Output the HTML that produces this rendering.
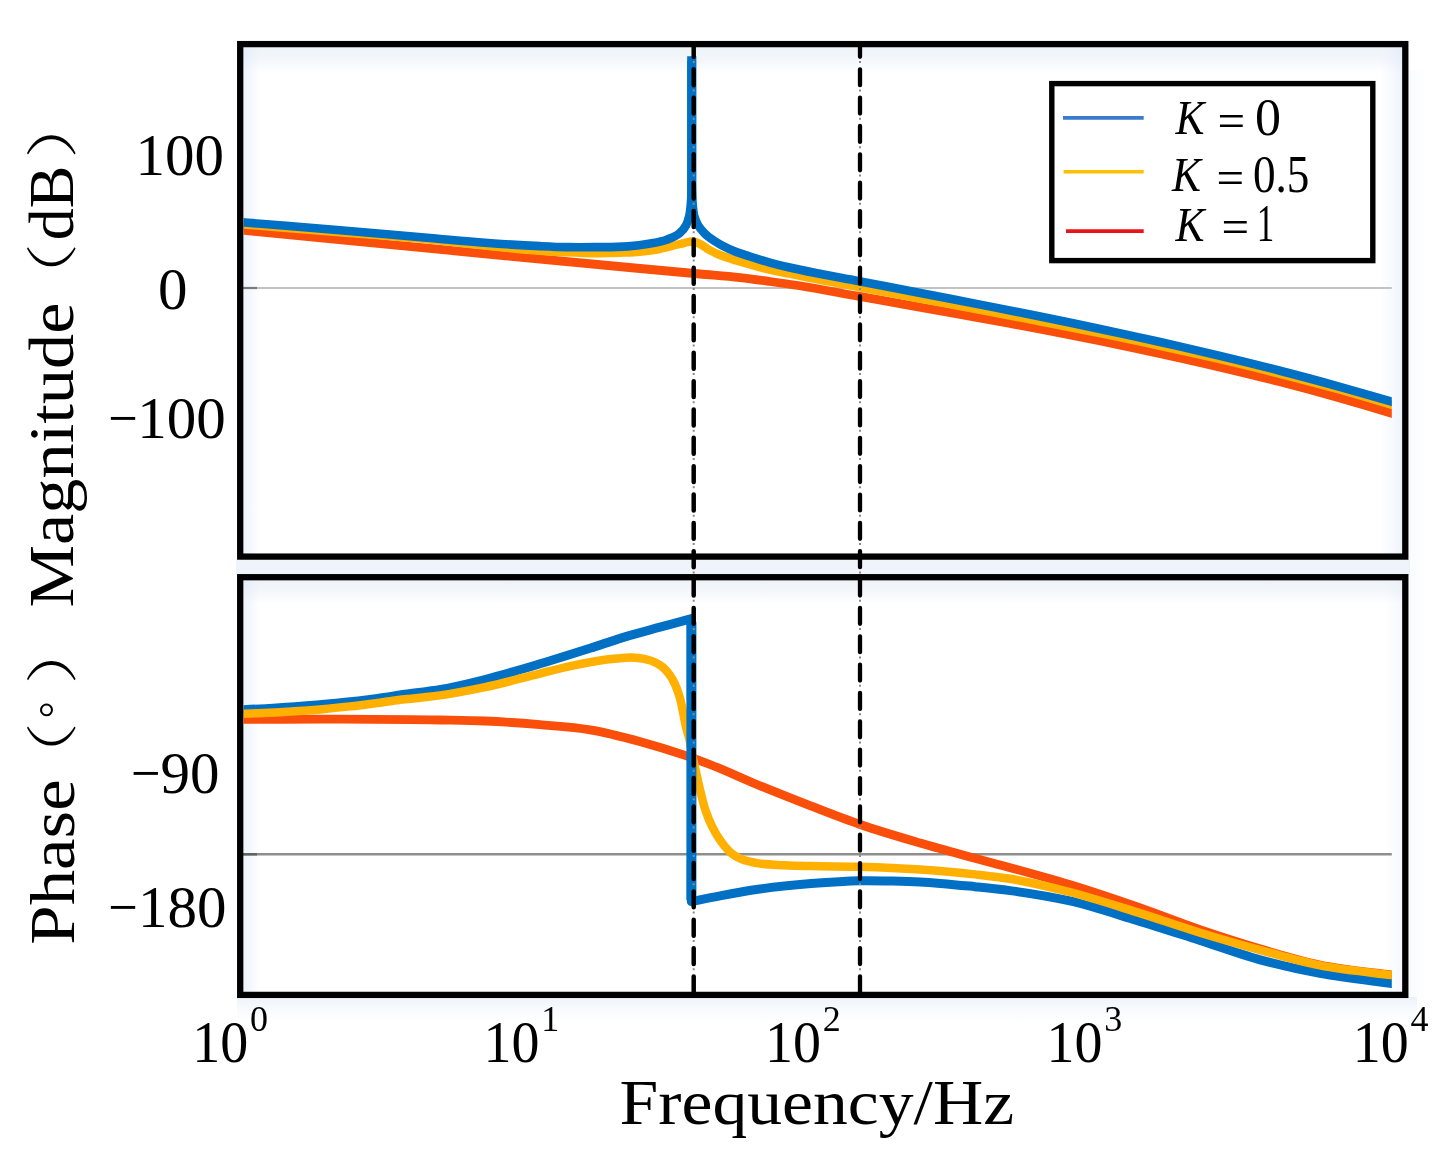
<!DOCTYPE html>
<html lang="en">
<head>
<meta charset="utf-8">
<title>Bode plot</title>
<style>
html,body{margin:0;padding:0;background:#fff;}
body{width:1455px;height:1173px;position:relative;overflow:hidden;font-family:"Liberation Serif","Noto Serif CJK SC",serif;}
</style>
</head>
<body>
<svg width="1455" height="1173" viewBox="0 0 1455 1173" style="position:absolute;left:0;top:0;display:block">
<defs>
<clipPath id="clipTop"><rect x="243.6" y="47" width="1148.2" height="506.6"/></clipPath>
<clipPath id="clipDash"><rect x="680" y="42" width="200" height="952"/></clipPath>
<clipPath id="clipBot"><rect x="243.6" y="580.3" width="1148.2" height="411.9"/></clipPath>
<linearGradient id="gT" x1="0" y1="0" x2="0" y2="1"><stop offset="0" stop-color="#DDE7F2" stop-opacity="0.5"/><stop offset="0.5" stop-color="#E3ECF5" stop-opacity="0.4"/><stop offset="1" stop-color="#E8EFF8" stop-opacity="0"/></linearGradient>
<linearGradient id="gL" x1="0" y1="0" x2="1" y2="0"><stop offset="0" stop-color="#DCE5FA" stop-opacity="0.5"/><stop offset="0.45" stop-color="#E2EAFB" stop-opacity="0.35"/><stop offset="1" stop-color="#E8EEFC" stop-opacity="0"/></linearGradient>
<linearGradient id="gR" x1="1" y1="0" x2="0" y2="0"><stop offset="0" stop-color="#DFE8F8" stop-opacity="0.55"/><stop offset="1" stop-color="#E8EEFC" stop-opacity="0"/></linearGradient>
<linearGradient id="gB" x1="0" y1="0" x2="0" y2="1"><stop offset="0" stop-color="#E3EAF6" stop-opacity="0.7"/><stop offset="1" stop-color="#EEF2FA" stop-opacity="0"/></linearGradient>
<linearGradient id="gO" x1="0" y1="0" x2="1" y2="0"><stop offset="0" stop-color="#E6EEF6" stop-opacity="0.45"/><stop offset="1" stop-color="#EEF2FA" stop-opacity="0"/></linearGradient>
</defs>
<rect x="0" y="0" width="1455" height="1173" fill="#FFFFFF"/>
<rect x="243" y="47" width="1160" height="27" fill="url(#gT)"/>
<rect x="243" y="47" width="17" height="507" fill="url(#gL)"/>
<rect x="1380" y="47" width="22.5" height="507" fill="url(#gR)"/>
<rect x="243" y="580" width="1160" height="24" fill="url(#gT)"/>
<rect x="243" y="580" width="17" height="412" fill="url(#gL)"/>
<rect x="1384" y="580" width="18.5" height="412" fill="url(#gR)" opacity="0.6"/>
<rect x="236" y="559" width="1174" height="16" fill="#EFF3FA"/>
<rect x="237" y="997" width="1180" height="26" fill="url(#gB)" opacity="0.85"/>
<rect x="1408.5" y="70" width="18" height="930" fill="url(#gO)" opacity="0.6"/>
<line x1="243" y1="288" x2="1391.8" y2="288" stroke="#C2C2C2" stroke-width="2.2"/>
<line x1="243" y1="288" x2="257" y2="288" stroke="#7A7A7A" stroke-width="2.2"/>
<line x1="243" y1="854.3" x2="1391.8" y2="854.3" stroke="#8E8E8E" stroke-width="2.4"/>
<line x1="243" y1="854.3" x2="257" y2="854.3" stroke="#606060" stroke-width="2.4"/>
<g clip-path="url(#clipTop)" stroke-linejoin="round">
<path d="M240.00 229.98 C241.60 230.14 243.20 230.29 244.80 230.45 C309.86 236.82 374.93 243.18 440.00 249.45 C506.66 255.87 573.32 262.33 640.00 268.50 C660.00 270.35 680.00 272.19 700.00 274.00 C713.33 275.21 726.70 276.10 740.00 277.60 C750.02 278.73 760.01 280.13 770.00 281.50 C779.34 282.78 788.68 284.07 798.00 285.50 C818.07 288.59 838.00 292.62 858.00 296.17 C878.00 299.71 898.00 303.23 918.00 306.80 C938.00 310.37 958.01 313.94 978.00 317.60 C998.01 321.26 1018.02 324.96 1038.00 328.78 C1058.02 332.60 1078.03 336.49 1098.00 340.53 C1118.03 344.59 1138.03 348.74 1158.00 353.08 C1178.03 357.43 1198.04 361.91 1218.00 366.61 C1238.04 371.32 1258.06 376.20 1278.00 381.33 C1298.06 386.48 1318.07 391.83 1338.00 397.45 C1358.07 403.11 1378.08 409.00 1398.00 415.17 C1398.67 415.38 1399.33 415.59 1400.00 415.79" fill="none" stroke="#FA4F0A" stroke-width="8.80" />
<path d="M240.00 224.10 C241.60 224.23 243.20 224.37 244.80 224.50 C276.53 227.14 308.27 229.68 340.00 232.30 C373.33 235.05 406.73 237.19 440.00 240.60 C455.01 242.14 469.99 244.05 485.00 245.60 C503.32 247.49 521.63 249.47 540.00 250.75 C549.16 251.39 558.33 251.93 567.50 252.35 C576.66 252.77 585.83 253.19 595.00 253.25 C603.33 253.30 611.67 253.10 620.00 252.80 C626.67 252.56 633.36 252.44 640.00 251.80 C645.69 251.26 651.38 250.54 657.00 249.50 C662.72 248.45 668.34 246.87 674.00 245.50 C677.67 244.61 681.30 243.56 685.00 242.80 C687.42 242.31 689.91 241.36 692.30 241.50 C694.98 241.65 697.71 242.94 700.20 244.10 C703.07 245.44 705.48 247.71 708.25 249.30 C710.79 250.76 713.43 252.09 716.10 253.30 C718.71 254.48 721.41 255.49 724.10 256.50 C729.48 258.51 735.00 260.13 740.50 261.80 C747.35 263.88 754.26 265.82 761.20 267.60 C774.33 270.97 787.71 273.34 801.00 276.06 C820.95 280.13 840.99 283.75 861.00 287.54 C880.99 291.33 901.00 295.05 921.00 298.80 C941.00 302.55 961.01 306.27 981.00 310.06 C1001.01 313.85 1021.01 317.64 1041.00 321.53 C1061.01 325.44 1081.02 329.38 1101.00 333.46 C1121.02 337.55 1141.03 341.71 1161.00 346.05 C1181.03 350.40 1201.04 354.86 1221.00 359.52 C1241.04 364.21 1261.05 369.04 1281.00 374.12 C1301.05 379.22 1321.07 384.50 1341.00 390.05 C1360.73 395.54 1380.33 401.50 1400.00 407.23" fill="none" stroke="#FFB000" stroke-width="8.40" />
<path d="M240.00 222.05 C241.60 222.18 243.20 222.32 244.80 222.45 C276.53 225.09 308.27 227.54 340.00 230.20 C370.01 232.72 400.00 235.35 430.00 237.95 C448.33 239.54 466.65 241.38 485.00 242.75 C503.32 244.11 521.65 245.33 540.00 246.15 C549.16 246.56 558.33 246.98 567.50 247.15 C576.66 247.32 585.83 247.25 595.00 247.15 C605.93 247.04 616.92 247.34 627.80 246.40 C634.84 245.79 641.90 244.97 648.85 243.70 C655.09 242.56 661.52 241.67 667.40 239.40 C671.62 237.77 676.21 236.10 679.60 233.20 C682.19 230.99 684.56 228.11 686.20 225.10 C687.77 222.22 688.59 218.83 689.35 215.60 C690.24 211.82 690.49 207.88 690.85 204.00 C691.28 199.35 691.37 194.67 691.55 190.00 C692.06 176.68 691.70 163.33 691.75 150.00 C691.85 120.17 691.75 90.33 691.75 60.50" fill="none" stroke="#0070C4" stroke-width="8.60" />
<path d="M691.75 60.50 C691.77 90.33 691.72 120.17 691.80 150.00 C691.84 163.33 691.44 176.68 691.95 190.00 C692.13 194.67 692.22 199.35 692.65 204.00 C693.01 207.88 693.14 211.87 694.15 215.60 C695.04 218.87 696.29 222.18 698.00 225.10 C699.66 227.94 701.90 230.54 704.20 232.90 C707.23 236.01 710.89 238.56 714.50 241.00 C719.01 244.05 723.92 246.60 728.85 248.90 C735.59 252.05 742.82 254.15 749.90 256.50 C756.77 258.78 763.72 260.88 770.70 262.80 C780.05 265.37 789.54 267.45 799.00 269.57 C818.87 274.03 839.00 277.33 859.00 281.19 C879.00 285.05 899.00 288.87 919.00 292.74 C939.00 296.60 959.01 300.46 979.00 304.38 C999.01 308.31 1019.02 312.26 1039.00 316.31 C1059.02 320.37 1079.02 324.47 1099.00 328.71 C1119.02 332.95 1139.03 337.27 1159.00 341.75 C1179.03 346.24 1199.04 350.83 1219.00 355.61 C1239.04 360.41 1259.05 365.34 1279.00 370.48 C1299.05 375.65 1319.06 380.97 1339.00 386.54 C1359.06 392.13 1379.07 397.92 1399.00 403.96 C1399.33 404.06 1399.67 404.16 1400.00 404.26" fill="none" stroke="#0070C4" stroke-width="8.60" />
<line x1="691.75" y1="56.3" x2="691.75" y2="200" stroke="#0070C4" stroke-width="9.2"/>
</g>
<g clip-path="url(#clipBot)">
<path d="M240.00 719.30 C241.33 719.30 242.67 719.30 244.00 719.30 C276.00 719.30 308.00 719.09 340.00 719.20 C373.33 719.31 406.67 719.41 440.00 720.00 C455.00 720.27 470.01 720.36 485.00 721.00 C503.35 721.78 521.69 723.14 540.00 724.70 C556.69 726.13 573.51 727.05 590.00 729.80 C606.71 732.59 623.22 736.95 639.60 741.40 C654.90 745.56 670.10 750.23 685.10 755.40 C693.45 758.28 701.76 761.32 710.00 764.50 C726.05 770.69 741.59 778.14 757.50 784.70 C774.91 791.88 792.43 798.80 810.00 805.60 C826.67 812.05 843.31 818.67 860.20 824.50 C879.91 831.30 899.97 837.15 920.00 843.00 C938.26 848.33 956.65 853.20 975.00 858.20 C984.99 860.92 995.01 863.56 1005.00 866.30 C1026.28 872.13 1047.60 877.86 1068.70 884.30 C1091.79 891.34 1114.69 899.08 1137.50 907.00 C1158.44 914.27 1179.02 922.56 1200.00 929.70 C1221.51 937.02 1243.17 943.98 1265.00 950.30 C1283.22 955.58 1301.46 961.13 1320.00 965.00 C1343.57 969.92 1367.76 971.88 1391.70 974.80 C1394.47 975.14 1397.23 975.47 1400.00 975.80" fill="none" stroke="#FA4F0A" stroke-width="8.80" />
<path d="M240.00 709.95 C241.33 709.88 242.67 709.82 244.00 709.75 C261.01 708.89 278.02 707.95 295.00 706.70 C308.74 705.69 322.49 704.58 336.20 703.20 C349.99 701.81 363.77 700.27 377.50 698.40 C386.68 697.15 395.83 695.61 405.00 694.30 C416.82 692.61 428.75 691.55 440.50 689.50 C455.46 686.89 470.26 683.21 485.00 679.50 C503.48 674.85 521.73 669.25 540.00 663.80 C558.40 658.31 576.70 652.46 595.00 646.65 C606.68 642.94 618.25 638.87 630.00 635.40 C639.94 632.47 650.00 629.93 660.00 627.20 C670.43 624.36 680.87 621.53 691.30 618.70 L691.3 700" fill="none" stroke="#0070C4" stroke-width="9.00" stroke-linejoin="miter" stroke-miterlimit="6"/>
<path d="M691.3 860 L691.3 901.5 L691.30 901.50 C700.87 899.60 710.41 897.60 720.00 895.80 C732.04 893.54 744.09 891.28 756.20 889.50 C774.43 886.82 792.83 885.10 811.20 883.60 C827.44 882.27 843.72 881.00 860.00 880.70 C870.83 880.50 881.67 880.76 892.50 881.00 C901.67 881.20 910.84 881.43 920.00 881.90 C938.37 882.83 956.69 884.83 975.00 886.70 C986.68 887.89 998.37 889.04 1010.00 890.60 C1029.67 893.23 1049.36 896.35 1068.70 900.70 C1091.96 905.93 1114.65 913.72 1137.50 920.65 C1158.41 927.00 1179.17 933.79 1200.00 940.40 C1221.67 947.28 1243.05 955.26 1265.00 961.10 C1283.14 965.92 1301.55 969.95 1320.00 973.40 C1343.71 977.84 1367.78 980.31 1391.70 983.50 C1394.47 983.87 1397.23 984.23 1400.00 984.60" fill="none" stroke="#0070C4" stroke-width="9.00" stroke-linejoin="round"/>
<path d="M240.00 714.05 C241.33 713.98 242.67 713.92 244.00 713.85 C261.00 713.00 278.01 712.31 295.00 711.20 C304.17 710.60 313.34 710.00 322.50 709.20 C331.68 708.40 340.84 707.43 350.00 706.40 C359.18 705.37 368.34 704.18 377.50 703.00 C386.67 701.82 395.82 700.44 405.00 699.30 C416.65 697.85 428.38 697.05 440.00 695.40 C455.09 693.26 470.09 690.35 485.00 687.20 C503.47 683.30 521.65 678.06 540.00 673.60 C551.66 670.77 563.26 667.66 575.00 665.20 C582.31 663.67 589.63 662.14 597.00 661.00 C603.47 660.00 609.98 659.20 616.50 658.60 C621.32 658.16 626.17 657.50 631.00 657.60 C635.42 657.69 639.94 658.02 644.25 658.95 C648.22 659.81 652.30 660.90 655.90 662.75 C658.56 664.12 661.15 665.83 663.40 667.80 C665.65 669.78 667.62 672.18 669.40 674.60 C671.50 677.46 673.26 680.64 674.80 683.85 C676.37 687.12 677.58 690.59 678.70 694.05 C679.71 697.18 680.54 700.39 681.30 703.60 C682.12 707.04 682.70 710.53 683.40 714.00 C684.27 718.33 684.96 722.71 686.00 727.00 C686.98 731.04 688.43 734.96 689.40 739.00 C690.74 744.59 691.32 750.36 692.45 756.00 C693.68 762.16 695.18 768.27 696.55 774.40 C697.57 778.97 698.52 783.55 699.60 788.10 C700.31 791.07 701.04 794.04 701.80 797.00 C702.93 801.38 703.98 805.81 705.40 810.10 C707.33 815.92 709.62 821.69 712.40 827.15 C714.91 832.08 717.72 836.95 721.00 841.40 C724.13 845.64 727.39 850.07 731.50 853.30 C734.67 855.79 738.37 857.88 742.10 859.45 C746.68 861.38 751.79 862.18 756.70 863.10 C765.87 864.82 775.36 864.69 784.70 865.20 C793.12 865.66 801.57 865.86 810.00 866.10 C826.73 866.57 843.47 866.32 860.20 866.80 C880.14 867.37 900.10 868.20 920.00 869.55 C938.36 870.80 956.71 872.37 975.00 874.40 C986.68 875.70 998.40 876.94 1010.00 878.80 C1029.76 881.97 1049.30 886.78 1068.70 891.75 C1091.88 897.69 1114.65 905.25 1137.50 912.40 C1158.40 918.94 1179.06 926.29 1200.00 932.70 C1221.55 939.30 1243.24 945.47 1265.00 951.35 C1283.27 956.29 1301.48 961.71 1320.00 965.45 C1343.60 970.22 1367.76 972.18 1391.70 975.10 C1394.47 975.44 1397.23 975.77 1400.00 976.10" fill="none" stroke="#FFB000" stroke-width="8.50" />
<line x1="691.4" y1="622" x2="691.4" y2="900" stroke="#0070C4" stroke-width="10"/>
</g>
<rect x="240.2" y="44.1" width="1165.1" height="512.5" fill="none" stroke="#000" stroke-width="6.3"/>
<rect x="240.2" y="577.2" width="1165.1" height="417.7" fill="none" stroke="#000" stroke-width="6.3"/>
<g clip-path="url(#clipDash)">
<line x1="693.7" y1="40.95" x2="693.7" y2="992.5" stroke="#000" stroke-width="4.5" stroke-linecap="round" stroke-dasharray="15.9 12.45"/>
<line x1="693.7" y1="61.1" x2="693.7" y2="990" stroke="#8A8A8A" stroke-width="2" stroke-dasharray="2 26.35"/>
<line x1="860.0" y1="40.95" x2="860.0" y2="992.5" stroke="#000" stroke-width="4.3" stroke-linecap="round" stroke-dasharray="15.9 12.45"/>
<line x1="860.0" y1="61.1" x2="860.0" y2="990" stroke="#8A8A8A" stroke-width="2" stroke-dasharray="2 26.35"/>
</g>
<rect x="1051.8" y="83.6" width="321" height="177" fill="#FFFFFF" stroke="#000" stroke-width="5.4"/>
<line x1="1063" y1="117.9" x2="1143.7" y2="117.9" stroke="#3A7BCB" stroke-width="3.6"/>
<line x1="1063.6" y1="171.8" x2="1143.7" y2="171.8" stroke="#FFC000" stroke-width="3.6"/>
<line x1="1066" y1="231.1" x2="1143.7" y2="231.1" stroke="#E8141A" stroke-width="3.6"/>
<text x="1175.4" y="134.2" font-size="49.0" font-family="'Liberation Serif','Noto Serif CJK SC',serif" fill="#000" text-anchor="start" textLength="29.0" lengthAdjust="spacingAndGlyphs" font-style="italic">K</text>
<text x="1217.5" y="137.0" font-size="49.0" font-family="'Liberation Serif','Noto Serif CJK SC',serif" fill="#000" text-anchor="start">=</text>
<text x="1255.1" y="135.4" font-size="52.0" font-family="'Liberation Serif','Noto Serif CJK SC',serif" fill="#000" text-anchor="start">0</text>
<text x="1172.1" y="191.4" font-size="49.0" font-family="'Liberation Serif','Noto Serif CJK SC',serif" fill="#000" text-anchor="start" textLength="29.0" lengthAdjust="spacingAndGlyphs" font-style="italic">K</text>
<text x="1216.4" y="194.0" font-size="49.0" font-family="'Liberation Serif','Noto Serif CJK SC',serif" fill="#000" text-anchor="start">=</text>
<text x="1252.9" y="192.2" font-size="52.0" font-family="'Liberation Serif','Noto Serif CJK SC',serif" fill="#000" text-anchor="start" textLength="56.5" lengthAdjust="spacingAndGlyphs">0.5</text>
<text x="1175.4" y="240.5" font-size="49.0" font-family="'Liberation Serif','Noto Serif CJK SC',serif" fill="#000" text-anchor="start" textLength="29.0" lengthAdjust="spacingAndGlyphs" font-style="italic">K</text>
<text x="1221.5" y="243.2" font-size="49.0" font-family="'Liberation Serif','Noto Serif CJK SC',serif" fill="#000" text-anchor="start">=</text>
<text x="1256.8" y="241.2" font-size="52.0" font-family="'Liberation Serif','Noto Serif CJK SC',serif" fill="#000" text-anchor="start" textLength="17.5" lengthAdjust="spacingAndGlyphs">1</text>
<text y="175.2" font-size="59" font-family="'Liberation Serif','Noto Serif CJK SC',serif" fill="#000"><tspan x="135.4">100</tspan></text>
<text y="308.7" font-size="59" font-family="'Liberation Serif','Noto Serif CJK SC',serif" fill="#000"><tspan x="158.0">0</tspan></text>
<text y="437.6" font-size="59" font-family="'Liberation Serif','Noto Serif CJK SC',serif" fill="#000"><tspan x="108.3" textLength="29.5" lengthAdjust="spacingAndGlyphs">−</tspan><tspan x="137.2">100</tspan></text>
<text y="793.2" font-size="59" font-family="'Liberation Serif','Noto Serif CJK SC',serif" fill="#000"><tspan x="131.0" textLength="29.5" lengthAdjust="spacingAndGlyphs">−</tspan><tspan x="160.5">90</tspan></text>
<text y="926.9" font-size="59" font-family="'Liberation Serif','Noto Serif CJK SC',serif" fill="#000"><tspan x="108.3" textLength="29.5" lengthAdjust="spacingAndGlyphs">−</tspan><tspan x="138.0">180</tspan></text>
<text y="1062.2" font-size="59" font-family="'Liberation Serif','Noto Serif CJK SC',serif" fill="#000"><tspan x="192.3" textLength="56" lengthAdjust="spacingAndGlyphs">10</tspan><tspan x="250.1" dy="-31.3" font-size="36">0</tspan></text>
<text y="1062.2" font-size="59" font-family="'Liberation Serif','Noto Serif CJK SC',serif" fill="#000"><tspan x="483.4" textLength="56" lengthAdjust="spacingAndGlyphs">10</tspan><tspan x="541.2" dy="-31.3" font-size="36">1</tspan></text>
<text y="1062.2" font-size="59" font-family="'Liberation Serif','Noto Serif CJK SC',serif" fill="#000"><tspan x="764.9" textLength="56" lengthAdjust="spacingAndGlyphs">10</tspan><tspan x="822.7" dy="-31.3" font-size="36">2</tspan></text>
<text y="1062.2" font-size="59" font-family="'Liberation Serif','Noto Serif CJK SC',serif" fill="#000"><tspan x="1046.4" textLength="56" lengthAdjust="spacingAndGlyphs">10</tspan><tspan x="1104.2" dy="-31.3" font-size="36">3</tspan></text>
<text y="1062.2" font-size="59" font-family="'Liberation Serif','Noto Serif CJK SC',serif" fill="#000"><tspan x="1352.8" textLength="56" lengthAdjust="spacingAndGlyphs">10</tspan><tspan x="1410.6" dy="-31.3" font-size="36">4</tspan></text>
<text x="619.6" y="1123.7" font-size="64.0" font-family="'Liberation Serif','Noto Serif CJK SC',serif" fill="#000" text-anchor="start" textLength="394.5" lengthAdjust="spacingAndGlyphs">Frequency/Hz</text>
<g transform="translate(73.3,605.6) rotate(-90)">
<text y="0" font-size="64" font-family="'Liberation Serif','Noto Serif CJK SC',serif" fill="#000"><tspan x="-2" textLength="305" lengthAdjust="spacingAndGlyphs">Magnitude</tspan><tspan x="295.2" dy="-2.7" font-size="52" font-weight="300" textLength="67.6" lengthAdjust="spacingAndGlyphs">（</tspan><tspan x="365.3" dy="2.7">dB</tspan><tspan x="446.8" dy="-2.7" font-size="52" font-weight="300" textLength="67.6" lengthAdjust="spacingAndGlyphs">）</tspan></text>
</g>
<g transform="translate(73.5,942.8) rotate(-90)">
<text y="0" font-size="64" font-family="'Liberation Serif','Noto Serif CJK SC',serif" fill="#000"><tspan x="-2" textLength="165.5" lengthAdjust="spacingAndGlyphs">Phase</tspan><tspan x="153.0" dy="-2.7" font-size="52" font-weight="300" textLength="67.6" lengthAdjust="spacingAndGlyphs">（</tspan><tspan x="224.6" dy="-3.3" font-size="42">°</tspan><tspan x="258.4" dy="3.3" font-size="52" font-weight="300" textLength="67.6" lengthAdjust="spacingAndGlyphs">）</tspan></text>
</g>
</svg>
</body>
</html>
